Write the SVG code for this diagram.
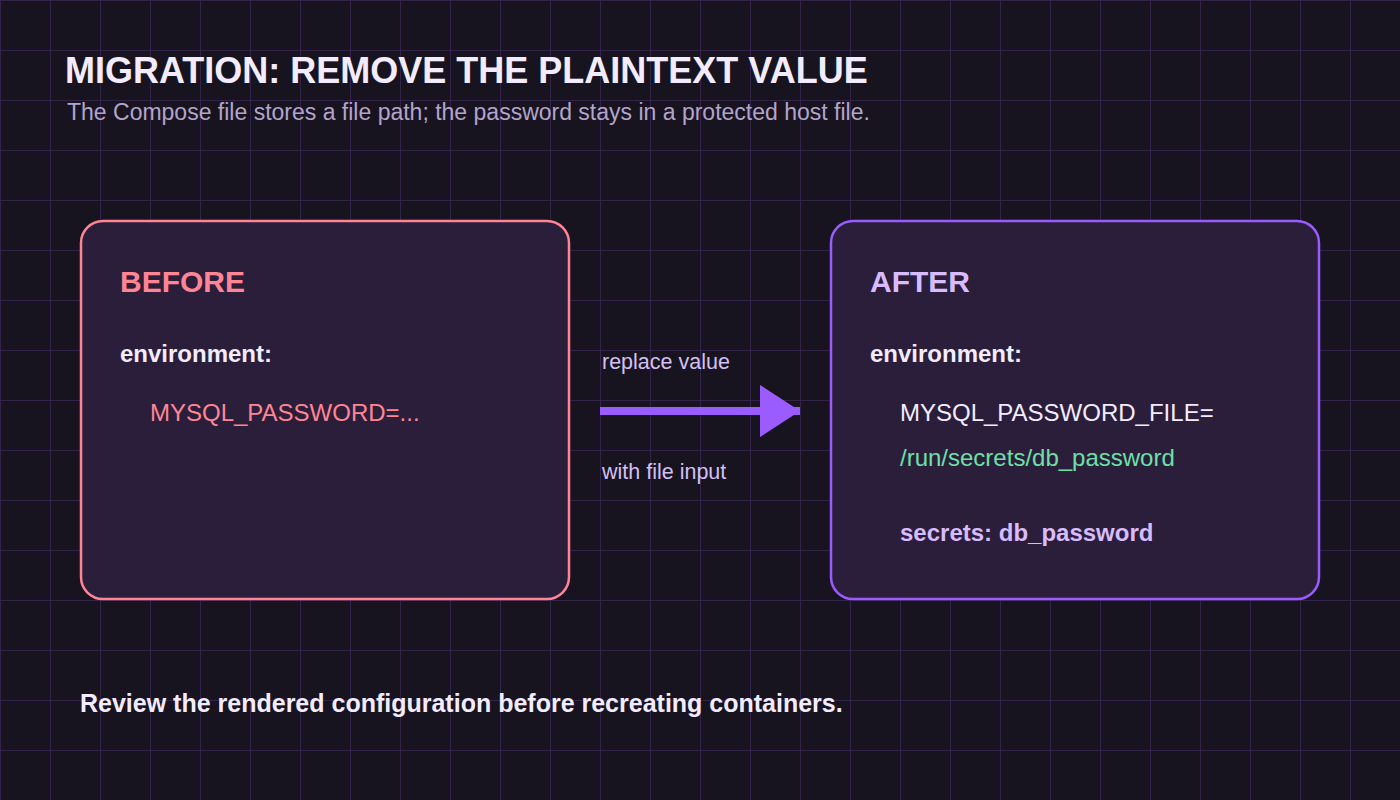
<svg xmlns="http://www.w3.org/2000/svg" width="1400" height="800" viewBox="0 0 1400 800">
<defs>
<pattern id="grid" width="50" height="50" patternUnits="userSpaceOnUse">
<path d="M0 0H50M0 0V50" fill="none" stroke="#3a2755" stroke-width="1.5"/>
</pattern>
<marker id="ah" markerUnits="userSpaceOnUse" markerWidth="40" markerHeight="52" refX="40" refY="26" orient="auto">
<path d="M0 0L40 26L0 52Z" fill="#9b5cff"/>
</marker>
</defs>
<style>
text{font-family:"Liberation Sans",Arial,sans-serif}
.t{font-size:36px;font-weight:bold;fill:#f3ecff}
.s{font-size:23px;fill:#b3a4cc}
.h{font-size:30px;font-weight:bold}
.e{font-size:24px;font-weight:bold;fill:#f3ecff}
.c{font-size:24px}
.l{font-size:21.5px;fill:#d4c0f5}
.f{font-size:25px;font-weight:bold;fill:#f3ecff}
.box{fill:#2b1e3b;stroke-width:2.5}
</style>
<rect width="1400" height="800" fill="#17141f"/>
<rect width="1400" height="800" fill="url(#grid)"/>
<text class="t" x="65" y="83">MIGRATION: REMOVE THE PLAINTEXT VALUE</text>
<text class="s" x="67" y="120">The Compose file stores a file path; the password stays in a protected host file.</text>
<g id="before">
<rect class="box" x="81" y="221" width="488" height="378" rx="22" stroke="#ff8595"/>
<text class="h" x="120" y="292" fill="#ff8595">BEFORE</text>
<text class="e" x="120" y="362">environment:</text>
<text class="c" x="150" y="421" fill="#ff8595">MYSQL_PASSWORD=...</text>
</g>
<g id="after">
<rect class="box" x="831" y="221" width="488" height="378" rx="22" stroke="#9b5cff"/>
<text class="h" x="870" y="292" fill="#d7bcff">AFTER</text>
<text class="e" x="870" y="362">environment:</text>
<text class="c" x="900" y="421" fill="#f3ecff">MYSQL_PASSWORD_FILE=</text>
<text class="c" x="900" y="466" fill="#6ee0a6">/run/secrets/db_password</text>
<text class="c" x="900" y="541" font-weight="bold" fill="#d7bcff">secrets: db_password</text>
</g>
<g id="connectors">
<line x1="600" y1="411" x2="800" y2="411" stroke="#9b5cff" stroke-width="8" marker-end="url(#ah)"/>
<text class="l" x="602" y="369">replace value</text>
<text class="l" x="602" y="479">with file input</text>
</g>
<text class="f" x="80" y="712">Review the rendered configuration before recreating containers.</text>
</svg>
